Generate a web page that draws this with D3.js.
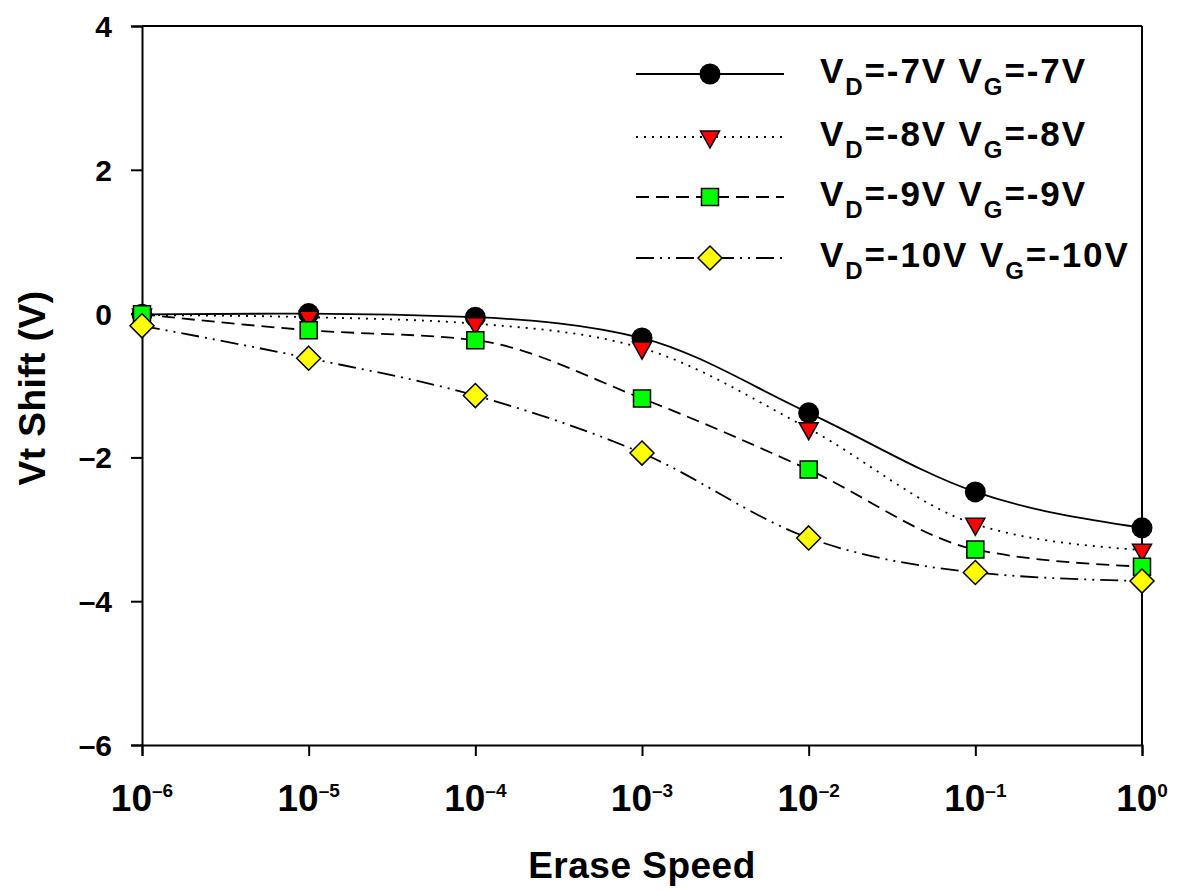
<!DOCTYPE html>
<html><head><meta charset="utf-8">
<script src="https://cdn.jsdelivr.net/npm/d3@7"></script>
<style>
body{margin:0;background:#fff;}
text{font-family:"Liberation Sans",Arial,sans-serif;font-weight:bold;fill:#000;}
</style></head>
<body>
<svg id="chart" width="1181" height="891"></svg>
<script>
// ---- data ----
const speeds = [1e-6, 1e-5, 1e-4, 1e-3, 1e-2, 1e-1, 1e0];
const xTickExponents = [-6, -5, -4, -3, -2, -1, 0];
const yTicks = [4, 2, 0, -2, -4, -6];
const seriesNames = ["-7V", "-8V", "-9V", "-10V"];
const vt7  = [-0.01, 0.00, -0.05, -0.34, -1.38, -2.48, -2.98];
const vt8  = [-0.02, -0.05, -0.14, -0.48, -1.60, -2.93, -3.29];
const vt9  = [-0.01, -0.23, -0.37, -1.18, -2.17, -3.28, -3.52];
const vt10 = [-0.17, -0.62, -1.14, -1.94, -3.12, -3.60, -3.72];
const xLabel = "Erase Speed";
const yLabel = "Vt Shift (V)";

// ---- styles ----
const styles = [
  {data: vt7,  marker: "circle",   fill: "#000000", dash: null},
  {data: vt8,  marker: "triangle", fill: "#ff0000", dash: "2,6"},
  {data: vt9,  marker: "square",   fill: "#00ff00", dash: "13,7"},
  {data: vt10, marker: "diamond",  fill: "#ffff00", dash: "18,6,2,6,2,6"}
];
const dash = s => String(s).replace("-", "\u2013");

const svg = d3.select("#chart");
const x = d3.scaleLog().domain([1e-6, 1]).range([142, 1142]);
const y = d3.scaleLinear().domain([-6, 4]).range([745, 26]);

function markerPath(type) {
  const p = d3.path();
  if (type === "circle") { p.arc(0, 0, 10.5, 0, 2 * Math.PI); }
  else if (type === "triangle") { p.moveTo(-9.5, -6); p.lineTo(9.5, -6); p.lineTo(0, 11); p.closePath(); }
  else if (type === "square") { p.rect(-8.5, -8.5, 17, 17); }
  else if (type === "diamond") { p.moveTo(0, -12); p.lineTo(12, 0); p.lineTo(0, 12); p.lineTo(-12, 0); p.closePath(); }
  return p.toString();
}

// frame
svg.append("line").attr("x1", x(1e-6)).attr("x2", x(1)).attr("y1", y(4)).attr("y2", y(4))
  .attr("stroke", "#000").attr("stroke-width", 2);
svg.append("line").attr("x1", x(1)).attr("x2", x(1)).attr("y1", y(4)).attr("y2", y(-6))
  .attr("stroke", "#000").attr("stroke-width", 2);

// axes
const xAxis = svg.append("g").attr("transform", `translate(0,${y(-6)})`)
  .call(d3.axisBottom(x).tickValues(xTickExponents.map(e => Math.pow(10, e))).tickSize(11).tickFormat(""));
const yAxis = svg.append("g").attr("transform", `translate(${x(1e-6)},0)`)
  .call(d3.axisLeft(y).tickValues(yTicks).tickSize(11).tickFormat(""));
[xAxis, yAxis].forEach(a => {
  a.select(".domain").attr("stroke", "#000").attr("stroke-width", 2);
  a.selectAll(".tick line").attr("stroke", "#000").attr("stroke-width", 2);
});

// x tick labels
xTickExponents.forEach(e => {
  const t = svg.append("text").attr("x", x(Math.pow(10, e))).attr("y", 811)
    .attr("text-anchor", "middle").style("font-size", "37px");
  t.append("tspan").text("10");
  t.append("tspan").attr("dy", -14).style("font-size", "19px").text(dash(e));
});
// y tick labels
yTicks.forEach(v => {
  svg.append("text").attr("x", 112).attr("y", y(v) + 11)
    .attr("text-anchor", "end").style("font-size", "30px").text(dash(v));
});

// axis titles
svg.append("text").attr("x", 642).attr("y", 878).attr("text-anchor", "middle")
  .style("font-size", "37px").style("letter-spacing", "0.5px").text(xLabel);
svg.append("text").attr("transform", "translate(45,388) rotate(-90)").attr("text-anchor", "middle")
  .style("font-size", "37px").style("letter-spacing", "0.5px").text(yLabel);

// series
const line = d3.line().x((d, i) => x(speeds[i])).y(d => y(d)).curve(d3.curveMonotoneX);
styles.forEach(s => {
  svg.append("path").attr("d", line(s.data)).attr("fill", "none").attr("stroke", "#000")
    .attr("stroke-width", 1.8).attr("stroke-dasharray", s.dash);
});
styles.forEach(s => {
  svg.selectAll(null).data(s.data).enter().append("path")
    .attr("d", markerPath(s.marker))
    .attr("transform", (d, i) => `translate(${x(speeds[i])},${y(d)})`)
    .attr("fill", s.fill).attr("stroke", "#000").attr("stroke-width", s.marker === "circle" ? 0 : 1.5);
});

// legend
const legendRows = [74, 137, 197, 258];
styles.forEach((s, i) => {
  const g = svg.append("g").attr("transform", `translate(0,${legendRows[i]})`);
  g.append("line").attr("x1", 636).attr("x2", 784).attr("y1", 0).attr("y2", 0)
    .attr("stroke", "#000").attr("stroke-width", 1.8).attr("stroke-dasharray", s.dash);
  g.append("path").attr("d", markerPath(s.marker)).attr("transform", "translate(710,0)")
    .attr("fill", s.fill).attr("stroke", "#000").attr("stroke-width", s.marker === "circle" ? 0 : 1.5);
  const t = g.append("text").attr("x", 820).attr("y", 9).style("font-size", "35px")
    .style("letter-spacing", "1.9px");
  t.append("tspan").text("V");
  t.append("tspan").attr("dy", 12).style("font-size", "24px").text("D");
  t.append("tspan").attr("dy", -12).text("=" + seriesNames[i] + " V");
  t.append("tspan").attr("dy", 12).style("font-size", "24px").text("G");
  t.append("tspan").attr("dy", -12).text("=" + seriesNames[i]);
});
</script>
</body></html>
